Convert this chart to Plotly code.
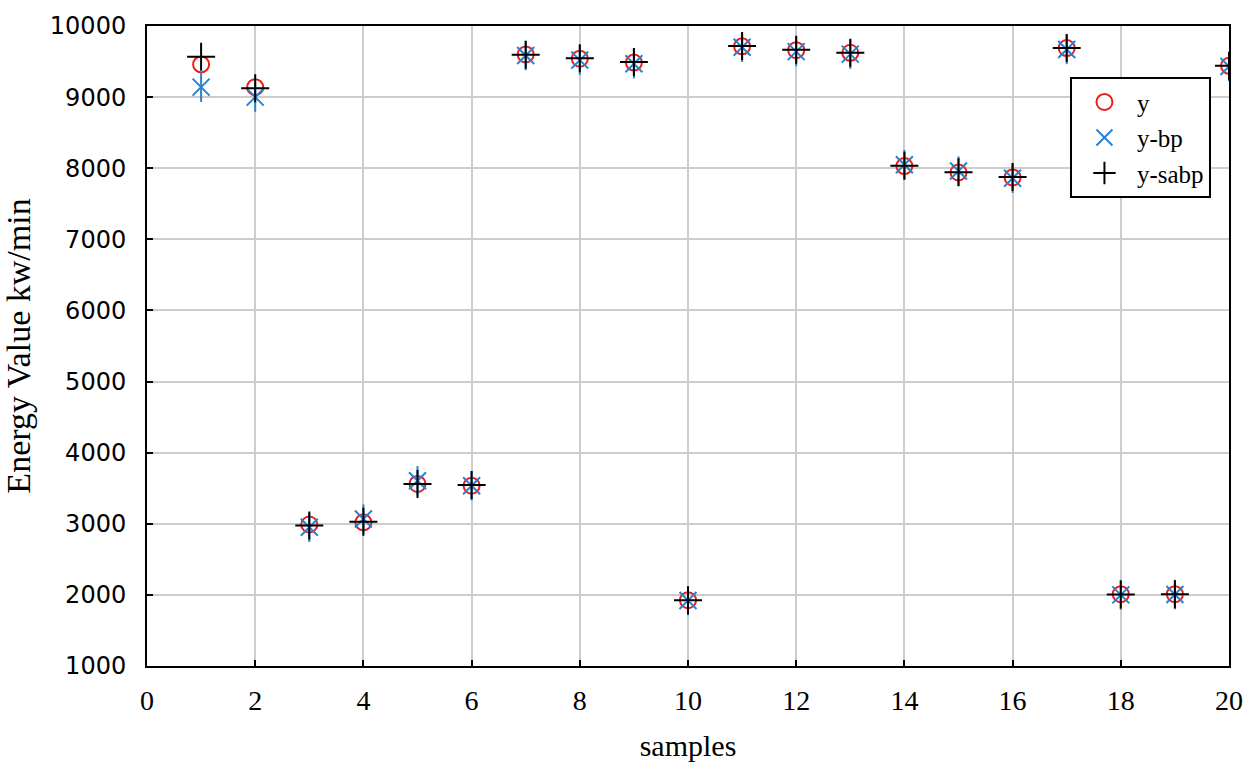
import plotly.graph_objects as go

samples = list(range(1, 21))
y_true = [9460, 9140, 2990, 3020, 3560, 3535, 9600, 9540, 9485, 1925,
          9714, 9660, 9623, 8030, 7940, 7870, 9690, 2010, 2010, 9440]
y_bp = [9140, 9000, 2950, 3066, 3604, 3535, 9585, 9520, 9470, 1920,
        9700, 9640, 9605, 8050, 7960, 7860, 9670, 2000, 2005, 9430]
y_sabp = [9568, 9126, 2975, 3030, 3560, 3544, 9595, 9545, 9495, 1925,
          9720, 9665, 9625, 8035, 7945, 7875, 9690, 2005, 2010, 9440]

red = 'rgb(235,30,30)'
blue = 'rgb(40,130,210)'
serif = 'Liberation Serif'

fig = go.Figure()
fig.add_trace(go.Scatter(x=samples, y=y_true, mode='markers', name='y',
                         marker=dict(symbol='circle-open', size=16, color=red,
                                     line=dict(width=2, color=red))))
fig.add_trace(go.Scatter(x=samples, y=y_bp, mode='markers', name='y-bp',
                         legendgroup='bp',
                         marker=dict(symbol='x-thin-open', size=17, color=blue,
                                     line=dict(width=2, color=blue))))
fig.add_trace(go.Scatter(x=samples, y=y_bp, mode='markers', name='y-bp',
                         legendgroup='bp', showlegend=False,
                         marker=dict(symbol='line-ns-open', size=21, color=blue,
                                     line=dict(width=2, color=blue))))
fig.add_trace(go.Scatter(x=samples, y=y_sabp, mode='markers', name='y-sabp',
                         marker=dict(symbol='cross-thin-open', size=20, color='black',
                                     line=dict(width=2, color='black'))))

fig.update_layout(
    width=1255, height=769,
    margin=dict(l=147, r=22, t=16, b=101),
    paper_bgcolor='white', plot_bgcolor='white',
    font=dict(family=serif, size=26, color='black'),
    showlegend=True,
    legend=dict(x=0.853, y=0.92, xanchor='left', yanchor='top',
                bgcolor='white', bordercolor='black', borderwidth=2,
                font=dict(family=serif, size=25),
                itemwidth=55, entrywidth=150, tracegroupgap=0),
    xaxis=dict(range=[0, 20], dtick=2, tick0=0,
               showgrid=True, gridcolor='rgb(205,205,205)', gridwidth=2,
               zeroline=False, showline=True, linecolor='black', linewidth=2,
               mirror=True, ticks='inside', ticklen=6, tickwidth=2, tickcolor='black',
               ticklabelstandoff=8,
               tickfont=dict(family=serif, size=28),
               title=dict(text='samples', font=dict(family=serif, size=30),
                          standoff=20)),
    yaxis=dict(range=[1000, 10000], dtick=1000, tickformat='d',
               showgrid=True, gridcolor='rgb(205,205,205)', gridwidth=2,
               zeroline=False, showline=True, linecolor='black', linewidth=2,
               mirror=True, ticks='inside', ticklen=6, tickwidth=2, tickcolor='black',
               ticklabelstandoff=14,
               tickfont=dict(family='DejaVu Sans', size=24),
               title=dict(text='Energy Value kw/min',
                          font=dict(family=serif, size=34), standoff=10)),
)

fig.write_html("out.html", config={'displayModeBar': False},
               post_script="document.body.style.margin='0';")
